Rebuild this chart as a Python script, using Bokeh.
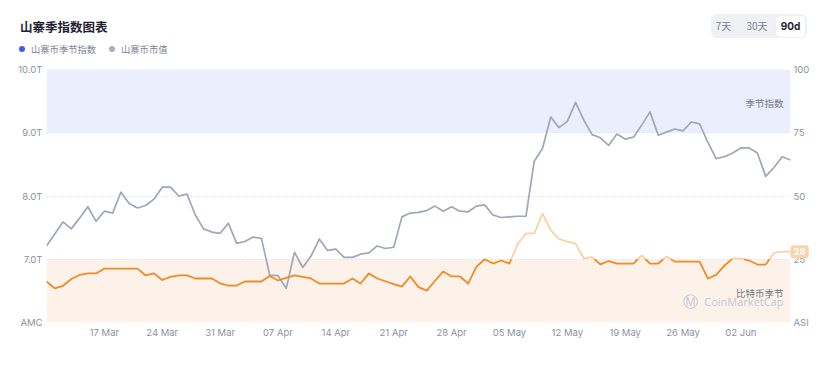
import numpy as np
import pandas as pd
from bokeh.plotting import figure
from bokeh.layouts import column
from bokeh.models import (Range1d, LinearAxis, FixedTicker, Label, Div,
                          DatetimeTickFormatter)
from bokeh.embed import file_html
from bokeh.resources import INLINE

# ---------------- data ----------------
dates = pd.date_range("2025-03-10", "2025-06-08", freq="D")

market_cap = [  # altcoin market cap, trillions
    7.21, 7.40, 7.59, 7.48, 7.65, 7.83, 7.60, 7.76, 7.73, 8.06,
    7.88, 7.81, 7.85, 7.95, 8.14, 8.14, 8.00, 8.03, 7.70, 7.48,
    7.43, 7.41, 7.57, 7.25, 7.28, 7.35, 7.33, 6.75, 6.74, 6.54,
    7.11, 6.87, 7.05, 7.32, 7.14, 7.16, 7.03, 7.03, 7.08, 7.10,
    7.21, 7.17, 7.19, 7.67, 7.73, 7.74, 7.77, 7.84, 7.76, 7.83,
    7.76, 7.75, 7.84, 7.86, 7.70, 7.66, 7.67, 7.68, 7.68, 8.55,
    8.75, 9.25, 9.08, 9.18, 9.48, 9.20, 8.97, 8.92, 8.80, 8.98,
    8.90, 8.93, 9.12, 9.33, 8.96, 9.01, 9.06, 9.03, 9.17, 9.14,
    8.85, 8.59, 8.62, 8.68, 8.76, 8.76, 8.68, 8.31, 8.45, 8.62,
    8.57,
]

season_index = [  # altcoin season index, 0-100
    16.2, 13.5, 14.5, 17.2, 18.8, 19.4, 19.4, 21.3, 21.3, 21.3,
    21.3, 21.3, 18.6, 19.4, 16.8, 18.0, 18.6, 18.6, 17.4, 17.4,
    17.4, 15.5, 14.6, 14.6, 16.2, 16.2, 16.2, 18.4, 16.6, 17.6,
    18.6, 18.0, 17.4, 15.4, 15.4, 15.4, 15.4, 17.4, 15.4, 19.4,
    17.4, 16.3, 15.2, 14.2, 18.2, 14.0, 12.6, 16.5, 20.2, 18.2,
    18.2, 15.4, 22.0, 25.0, 23.3, 24.5, 23.3, 31.0, 35.2, 35.2,
    43.0, 36.5, 33.0, 32.0, 31.2, 25.3, 25.8, 23.0, 24.3, 23.3,
    23.3, 23.3, 26.5, 23.3, 23.3, 26.0, 24.1, 24.1, 24.1, 24.1,
    17.4, 18.8, 22.5, 25.3, 25.3, 24.5, 22.9, 22.9, 27.5, 28.0,
    28.0,
]

x_tick_dates = ["2025-03-17", "2025-03-24", "2025-03-31", "2025-04-07",
                "2025-04-14", "2025-04-21", "2025-04-28", "2025-05-05",
                "2025-05-12", "2025-05-19", "2025-05-26", "2025-06-02"]
cap_ticks = [6, 7, 8, 9, 10]
cap_labels = {6: "AMC", 7: "7.0T", 8: "8.0T", 9: "9.0T", 10: "10.0T"}
index_ticks = [0, 25, 50, 75, 100]
index_labels = {0: "ASI", 25: "25", 50: "50", 75: "75", 100: "100"}
ALT_SEASON = 75
BTC_SEASON = 25

title_text = "山寨季指数图表"
legend_names = ["山寨币季节指数", "山寨币市值"]
band_labels = ["季节指数", "比特币季节"]
periods = ["7天", "30天", "90d"]

# ---------------- style ----------------
CJK = "Noto Sans CJK SC"
NUM = "Inter"
C_GRAY_LINE = "#a0a6b9"
C_DARK_OR = "#f08a24"
C_LIGHT_OR = "#fbd0a4"
C_BLUE_BAND = "#ebeefd"
C_OR_BAND = "#fdf2ea"
C_TICK = "#8a91a3"
C_BLUE_DOT = "#3b5cf5"
C_GRAY_DOT = "#a6aec0"

HEADER_H = 56

# ---------------- header (title, legend, period switch) ----------------
header_html = f"""
<div style="position:relative;width:826px;height:{HEADER_H}px;font-family:'{CJK}',sans-serif;">
  <div style="position:absolute;left:20px;top:17px;font-size:12.5px;font-weight:700;color:#1f2330;line-height:20px;white-space:nowrap;">{title_text}</div>
  <div style="position:absolute;left:19px;top:46px;width:6px;height:6px;border-radius:3px;background:{C_BLUE_DOT};"></div>
  <div style="position:absolute;left:31px;top:42px;font-size:9.3px;color:#7b8296;line-height:14px;white-space:nowrap;">{legend_names[0]}</div>
  <div style="position:absolute;left:109px;top:46px;width:6px;height:6px;border-radius:3px;background:{C_GRAY_DOT};"></div>
  <div style="position:absolute;left:121px;top:42px;font-size:9.3px;color:#7b8296;line-height:14px;white-space:nowrap;">{legend_names[1]}</div>
  <div style="position:absolute;left:711px;top:14px;width:96px;height:24px;border-radius:6px;background:#eff1f4;"></div>
  <div style="position:absolute;left:711px;top:14px;width:25px;line-height:24px;text-align:center;font-size:10px;color:#7b8296;">{periods[0]}</div>
  <div style="position:absolute;left:741px;top:14px;width:32px;line-height:24px;text-align:center;font-size:10px;color:#7b8296;">{periods[1]}</div>
  <div style="position:absolute;left:776px;top:16px;width:29px;height:21px;border-radius:4px;background:#ffffff;box-shadow:0 0 1px rgba(0,0,0,0.08);"></div>
  <div style="position:absolute;left:776px;top:16px;width:29px;line-height:21px;text-align:center;font-size:10px;font-weight:700;color:#1f2330;font-family:'{NUM}',sans-serif;">{periods[2]}</div>
</div>
"""
header = Div(text=header_html, width=826, height=HEADER_H, margin=0)

# ---------------- chart ----------------
x_ms = (dates.asi8 // 10**6).astype(float)

p = figure(width=826, height=306, x_axis_type="datetime",
           output_backend="svg", toolbar_location=None,
           min_border_left=46, min_border_right=36,
           min_border_top=13, min_border_bottom=40, margin=0)
p.x_range = Range1d(x_ms[0], x_ms[-1])
p.y_range = Range1d(cap_ticks[0], cap_ticks[-1])
p.extra_y_ranges = {"asi": Range1d(index_ticks[0], index_ticks[-1])}
p.outline_line_color = None
p.background_fill_color = "white"
p.border_fill_color = "white"

# season bands
p.quad(left=x_ms[0], right=x_ms[-1], bottom=ALT_SEASON, top=index_ticks[-1],
       fill_color=C_BLUE_BAND, line_color=None, y_range_name="asi", level="image")
p.quad(left=x_ms[0], right=x_ms[-1], bottom=index_ticks[0], top=BTC_SEASON,
       fill_color=C_OR_BAND, line_color=None, y_range_name="asi", level="image")

# grid
p.xgrid.visible = False
p.ygrid.ticker = FixedTicker(ticks=cap_ticks)
p.ygrid.grid_line_color = "#e1e4ea"
p.ygrid.grid_line_dash = "2 2"
p.ygrid.grid_line_width = 1

# market cap line
p.line(x_ms, market_cap, line_color=C_GRAY_LINE, line_width=1.7, line_join="round")

# season index line, coloured by region (split where it crosses the 25 level)
segs_x, segs_y, segs_c = [], [], []
cur_x, cur_y = [x_ms[0]], [season_index[0]]
cur_hi = season_index[0] > BTC_SEASON
for i in range(1, len(season_index)):
    x0, v0 = x_ms[i - 1], season_index[i - 1]
    x1, v1 = x_ms[i], season_index[i]
    hi = v1 > BTC_SEASON
    if hi != cur_hi:
        t = (BTC_SEASON - v0) / (v1 - v0)
        xc = x0 + t * (x1 - x0)
        cur_x.append(xc); cur_y.append(BTC_SEASON)
        segs_x.append(cur_x); segs_y.append(cur_y)
        segs_c.append(C_LIGHT_OR if cur_hi else C_DARK_OR)
        cur_x, cur_y, cur_hi = [xc], [BTC_SEASON], hi
    cur_x.append(x1); cur_y.append(v1)
segs_x.append(cur_x); segs_y.append(cur_y)
segs_c.append(C_LIGHT_OR if cur_hi else C_DARK_OR)
p.multi_line(segs_x, segs_y, line_color=segs_c, line_width=1.8,
             line_join="round", y_range_name="asi")

# axes
xa = p.xaxis[0]
xa.ticker = FixedTicker(ticks=[float(pd.Timestamp(d).value // 10**6) for d in x_tick_dates])
fmt = "%d %b"
xa.formatter = DatetimeTickFormatter(microseconds=fmt, milliseconds=fmt, seconds=fmt,
                                     minsec=fmt, minutes=fmt, hourmin=fmt, hours=fmt,
                                     days=fmt, months=fmt, years=fmt)
ya = p.yaxis[0]
ya.ticker = FixedTicker(ticks=cap_ticks)
ya.major_label_overrides = cap_labels

ra = LinearAxis(y_range_name="asi", ticker=FixedTicker(ticks=index_ticks),
                major_label_overrides=index_labels)
p.add_layout(ra, "right")

for ax in (xa, ya, ra):
    ax.axis_line_color = None
    ax.major_tick_line_color = None
    ax.minor_tick_line_color = None
    ax.major_tick_out = 0
    ax.major_tick_in = 0
    ax.minor_tick_out = 0
    ax.major_label_text_font = NUM
    ax.major_label_text_font_size = "9.5px"
    ax.major_label_text_color = C_TICK
xa.major_label_standoff = 4
ya.major_label_standoff = 4
ra.major_label_standoff = 3

# band labels + watermark (inside the plot area)
p.add_layout(Label(x=x_ms[-1], y=cap_ticks[-1], x_offset=-7, y_offset=-33,
                   text=band_labels[0], text_align="right", text_baseline="middle",
                   text_font=CJK, text_font_size="9.5px", text_color="#6f7689"))
p.add_layout(Label(x=x_ms[-1], y=cap_ticks[0], x_offset=-7, y_offset=30,
                   text=band_labels[1], text_align="right", text_baseline="middle",
                   text_font=CJK, text_font_size="9.5px", text_color="#6f7689"))
p.add_layout(Label(x=x_ms[-1], y=cap_ticks[0], x_offset=-7, y_offset=21,
                   text="CoinMarketCap", text_align="right", text_baseline="middle",
                   text_font="Open Sans", text_font_size="11px", text_color="#c3c8d3"))
p.add_layout(Label(x=x_ms[-1], y=cap_ticks[0], x_offset=-100, y_offset=21,
                   text="Ⓜ", text_align="center", text_baseline="middle",
                   text_font="DejaVu Sans", text_font_size="15px", text_color="#c3c8d3"))

# last value tag (outside the plot area -> side panel so it is not clipped)
last_val = season_index[-1]
p.add_layout(Label(x=x_ms[-1], y=last_val, y_range_name="asi", x_offset=0,
                   text=str(int(round(last_val))), text_align="left", text_baseline="middle",
                   text_font=NUM, text_font_size="9.5px", text_font_style="bold",
                   text_color="white", background_fill_color="#fbd3aa",
                   padding=3, border_radius=3), "below")

layout = column(header, p, spacing=0, margin=0)
open("out.html", "w").write(file_html(layout, INLINE))
